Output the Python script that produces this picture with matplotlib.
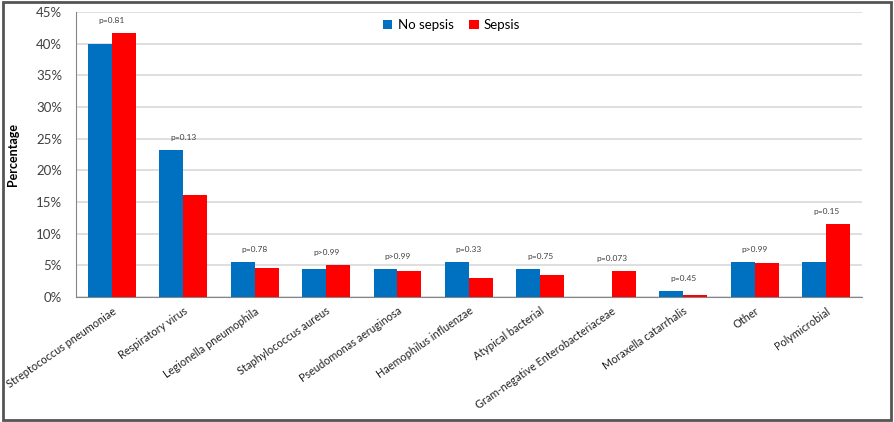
import matplotlib.pyplot as plt
from matplotlib.patches import Rectangle
from matplotlib.ticker import FuncFormatter
import numpy as np

plt.rcParams['font.family'] = ['Lato', 'DejaVu Sans']

categories = ['Streptococcus pneumoniae', 'Respiratory virus', 'Legionella pneumophila',
              'Staphylococcus aureus', 'Pseudomonas aeruginosa', 'Haemophilus influenzae',
              'Atypical bacterial', 'Gram-negative Enterobacteriaceae', 'Moraxella catarrhalis',
              'Other', 'Polymicrobial']
no_sepsis = [40.0, 23.2, 5.5, 4.4, 4.4, 5.5, 4.4, 0.0, 1.0, 5.5, 5.5]
sepsis = [41.7, 16.1, 4.6, 5.0, 4.1, 3.0, 3.5, 4.1, 0.3, 5.4, 11.5]
pvals = ['p=0.81', 'p=0.13', 'p=0.78', 'p>0.99', 'p>0.99', 'p=0.33',
         'p=0.75', 'p=0.073', 'p=0.45', 'p>0.99', 'p=0.15']

blue = '#0070C0'
red = '#FF0000'

fig = plt.figure(figsize=(8.94, 4.22), dpi=100)
ax = fig.add_axes([0.085, 0.296, 0.879, 0.676])

idx = np.arange(len(categories))
w = 0.335
ax.bar(idx - w / 2, no_sepsis, w, color=blue, label='No sepsis', zorder=3)
ax.bar(idx + w / 2, sepsis, w, color=red, label='Sepsis', zorder=3)

for i, p in enumerate(pvals):
    top = max(no_sepsis[i], sepsis[i])
    ax.text(i, top + 2.0, p, ha='center', va='center', fontsize=6, color='#404040')

ax.set_xlim(-0.5, len(categories) - 0.5)
ax.set_ylim(0, 45)
ax.set_yticks(np.arange(0, 46, 5))
ax.yaxis.set_major_formatter(FuncFormatter(lambda v, _: '%d%%' % v))
ax.grid(axis='y', color='#D9D9D9', linewidth=1.2, zorder=0)
ax.set_xticks(idx)
ax.set_xticklabels(categories, rotation=35, ha='right', rotation_mode='anchor',
                   fontsize=7.8, color='#222222')
ax.tick_params(axis='y', labelsize=9.5, length=0, colors='#404040', pad=10)
ax.tick_params(axis='x', length=0, pad=6)
for s in ['top', 'right']:
    ax.spines[s].set_visible(False)
ax.spines['left'].set_color('#868686')
ax.spines['bottom'].set_color('#868686')

ax.set_ylabel('Percentage', fontsize=9, fontweight='bold', labelpad=12)

ax.legend(loc='upper center', bbox_to_anchor=(0.478, 1.015), ncol=2, frameon=False,
          fontsize=9.5, handlelength=0.7, handleheight=0.7, columnspacing=1.2,
          handletextpad=0.4)

fig.patches.append(Rectangle((0.003, 0.005), 0.994, 0.99, transform=fig.transFigure,
                             fill=False, edgecolor='#555555', linewidth=2))

plt.savefig('out.png', dpi=100)
